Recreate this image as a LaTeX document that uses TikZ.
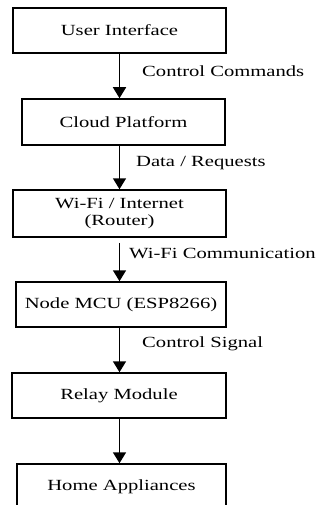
\documentclass[tikz,border=0pt]{standalone}
\usepackage{fontspec}
\setmainfont{Liberation Serif}[FakeStretch=1.33]
\usepackage{tikz}
\usetikzlibrary{arrows.meta}

\begin{document}
\begin{tikzpicture}[x=1pt, y=-1pt,
  block/.style={rectangle, draw, line width=1.5pt, inner sep=0pt, align=center,
    font=\fontsize{15.5}{17}\selectfont},
  flow/.style={line width=1.6pt, -{Triangle[width=13pt,length=11pt]}},
  lbl/.style={anchor=west, inner sep=0pt, font=\fontsize{15.5}{17}\selectfont}]
\useasboundingbox (0,0) rectangle (320,505);
% Blocks
\node[block, minimum width=213pt, minimum height=45pt] (ui) at (119.5,30.5) {User Interface};
\node[block, minimum width=203pt, minimum height=46pt] (cloud) at (123.5,122) {Cloud Platform};
\node[block, minimum width=213pt, minimum height=47pt] (wifi) at (119.5,213.5) {Wi-Fi / Internet\\(Router)};
\node[block, minimum width=210pt, minimum height=45pt] (mcu) at (121,304.5) {Node MCU (ESP8266)};
\node[block, minimum width=214pt, minimum height=45pt] (relay) at (119,395.5) {Relay Module};
\node[block, minimum width=209pt, minimum height=46pt] (home) at (121.5,487) {Home Appliances};
\coordinate (axis) at (119.5,0);

%Arrows
\draw[flow] (ui.south -| axis) -- (cloud.north -| axis);
\draw[flow] (cloud.south -| axis) -- (wifi.north -| axis);
\draw[flow, shorten <=5pt] (wifi.south -| axis) -- (mcu.north -| axis);
\draw[flow] (mcu.south -| axis) -- (relay.north -| axis);
\draw[flow] (relay.south -| axis) -- (home.north -| axis);

%Labels
\node[lbl] (cmd) at (142,71) {Control Commands};
\node[lbl] (req) at (136,163) {Data / Requests};
\node[lbl] (comm) at (129,253) {Wi-Fi Communication};
\node[lbl] (sig) at (142,344) {Control Signal};
\end{tikzpicture}
\end{document}
